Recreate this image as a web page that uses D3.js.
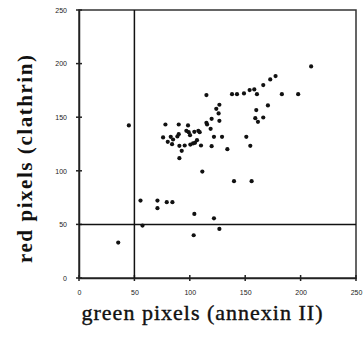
<!DOCTYPE html>
<html>
<head>
<meta charset="utf-8">
<script src="https://cdn.jsdelivr.net/npm/d3@7/dist/d3.min.js"></script>
<style>
  body { margin: 0; background: #fff; }
  svg { display: block; }
</style>
</head>
<body>
<svg width="363" height="341"></svg>
<script>
// green pixels (annexin II) on x, red pixels (clathrin) on y
const greenPixels = [
  35.4, 45, 55.5, 57.3, 70.8, 70.8, 79.2, 84.3, 104.1, 103.5, 121.8, 126.7, 111.3, 139.9, 155.8,
  75.9, 78, 80.1, 82.8, 84, 84.9, 88.8, 90, 90.6, 90, 92.7, 95.4, 90.6, 96.9, 98.4, 99, 100.2,
  100.5, 102.9, 104.1, 104.7, 106.5, 107.7, 108.9, 110.1, 115, 115.6, 115, 118.8, 119.7, 119.7,
  121.8, 123.9, 126, 126.7, 126.7, 129.1, 133.9, 138.1, 142.6, 148.9, 151, 154, 154.6, 158.2,
  159.1, 160, 160.6, 161.5, 166.3, 166.3, 170.5, 172.6, 177.4, 183.1, 197.8, 209.5
];
const redPixels = [
  33, 142.3, 72.2, 48.9, 72.2, 65.1, 70.7, 70.7, 59.8, 39.9, 55.7, 45.8, 99.3, 90.3, 90.3,
  131.1, 143.2, 127, 131.7, 124.8, 129.2, 132, 134.2, 123.3, 143.2, 118.6, 123.6, 111.8, 137.3, 142.3, 136, 133.2,
  124.5, 125.5, 136.4, 126.1, 128.6, 137.3, 136, 123.6, 144.8, 143.2, 170.6, 139.2, 148.5, 123,
  131.7, 157.8, 153.5, 161.6, 146.6, 131.7, 120.2, 171.5, 171.5, 172.2, 131.7, 175.3, 123.3, 175.9,
  149.1, 156.6, 171.5, 145.7, 149.7, 180, 161, 185.2, 188.4, 171.5, 171.5, 197.4
];
const tickValues = [0, 50, 100, 150, 200, 250];
const cutoff = 50;
const xTitle = 'green pixels (annexin II)';
const yTitle = 'red pixels (clathrin)';

const points = greenPixels.map((g, i) => ({ g: g, r: redPixels[i] }));

const svg = d3.select('svg');
const margin = { top: 10, right: 7, bottom: 63, left: 79 };
const width = +svg.attr('width') - margin.left - margin.right;
const height = +svg.attr('height') - margin.top - margin.bottom;

const x = d3.scaleLinear().domain([0, 250]).range([0, width]);
const y = d3.scaleLinear().domain([0, 250]).range([height, 0]);

const g = svg.append('g')
  .attr('transform', `translate(${margin.left},${margin.top})`);

// frame
g.append('rect')
  .attr('width', width)
  .attr('height', height)
  .attr('fill', 'none')
  .attr('stroke', '#333')
  .attr('stroke-width', 1.5);

// axes (labels only, ticks drawn crossing the line below)
const xAxis = g.append('g')
  .attr('transform', `translate(0,${height})`)
  .call(d3.axisBottom(x).tickValues(tickValues).tickSize(0).tickPadding(12));
const yAxis = g.append('g')
  .call(d3.axisLeft(y).tickValues(tickValues).tickSize(0).tickPadding(12));

[xAxis, yAxis].forEach(a => {
  a.select('.domain').attr('stroke', '#222').attr('stroke-width', 1.5);
  a.selectAll('text')
    .attr('font-family', 'Liberation Sans, sans-serif')
    .attr('font-size', 7)
    .attr('fill', '#222');
});

// crossing ticks
g.selectAll('.xtick')
  .data(tickValues)
  .enter().append('line')
  .attr('x1', d => x(d)).attr('x2', d => x(d))
  .attr('y1', height - 3).attr('y2', height + 3)
  .attr('stroke', '#222').attr('stroke-width', 1.5);
g.selectAll('.ytick')
  .data(tickValues)
  .enter().append('line')
  .attr('x1', -3).attr('x2', 3)
  .attr('y1', d => y(d)).attr('y2', d => y(d))
  .attr('stroke', '#222').attr('stroke-width', 1.5);

// threshold lines at 50
g.append('line')
  .attr('x1', x(cutoff)).attr('x2', x(cutoff))
  .attr('y1', 0).attr('y2', height)
  .attr('stroke', '#111').attr('stroke-width', 1.5);
g.append('line')
  .attr('x1', 0).attr('x2', width)
  .attr('y1', y(cutoff)).attr('y2', y(cutoff))
  .attr('stroke', '#111').attr('stroke-width', 1.5);

// points
g.selectAll('.dot')
  .data(points)
  .enter().append('circle')
  .attr('class', 'dot')
  .attr('cx', d => x(d.g))
  .attr('cy', d => y(d.r))
  .attr('r', 2.1)
  .attr('fill', '#111');

// X-axis title
svg.append('text')
  .attr('x', 202)
  .attr('y', 320)
  .attr('text-anchor', 'middle')
  .attr('font-family', 'Liberation Serif, serif')
  .attr('font-size', 22)
  .attr('textLength', 241)
  .attr('fill', '#111')
  .attr('stroke', '#111')
  .attr('stroke-width', 0.4)
  .text(xTitle);

// Y-axis title
svg.append('text')
  .attr('transform', 'translate(32,159) rotate(-90)')
  .attr('text-anchor', 'middle')
  .attr('font-family', 'Liberation Serif, serif')
  .attr('font-weight', 'bold')
  .attr('font-size', 21)
  .attr('textLength', 208)
  .attr('fill', '#111')
  .text(yTitle);
</script>
</body>
</html>
